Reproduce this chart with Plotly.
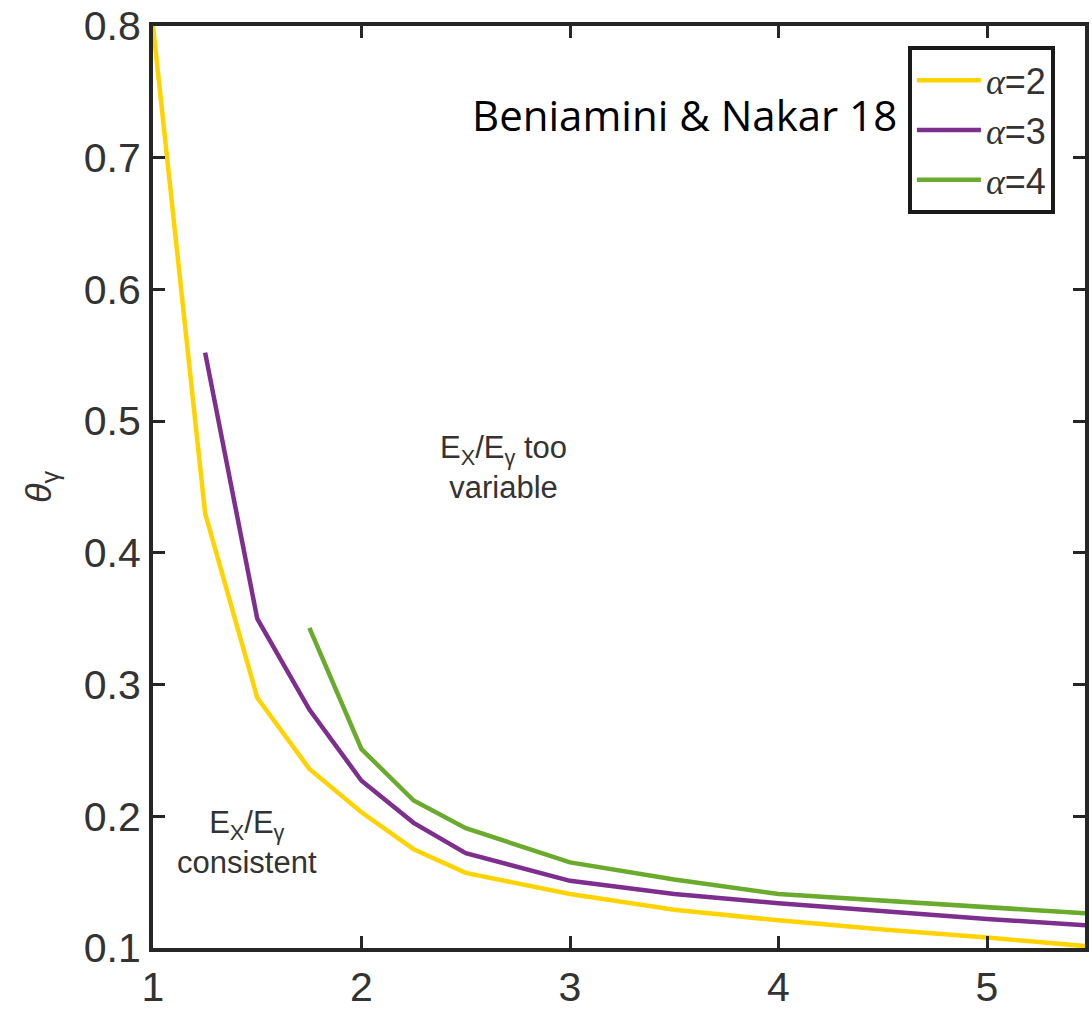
import plotly.graph_objects as go

x2 = [1, 1.25, 1.5, 1.75, 2, 2.25, 2.5, 3, 3.5, 4, 4.5, 5, 5.5]
y2 = [0.8, 0.43, 0.29, 0.236, 0.203, 0.175, 0.157, 0.141, 0.129, 0.121, 0.114, 0.108, 0.101]
x3 = [1.25, 1.5, 1.75, 2, 2.25, 2.5, 3, 3.5, 4, 4.5, 5, 5.5]
y3 = [0.552, 0.35, 0.281, 0.227, 0.195, 0.172, 0.151, 0.141, 0.134, 0.128, 0.122, 0.117]
x4 = [1.75, 2, 2.25, 2.5, 3, 3.5, 4, 4.5, 5, 5.5]
y4 = [0.343, 0.251, 0.212, 0.191, 0.165, 0.152, 0.141, 0.136, 0.131, 0.126]
alpha = "<span style='font-family:Liberation Serif'><i>α</i></span>"
names = [alpha + "=2", alpha + "=3", alpha + "=4"]
colors = ["#FFD300", "#7E2F8E", "#6AAB2E"]
xticks = [1, 2, 3, 4, 5]
yticks = [0.1, 0.2, 0.3, 0.4, 0.5, 0.6, 0.7, 0.8]

fig = go.Figure()
for xs, ys, n, c in zip([x2, x3, x4], [y2, y3, y4], names, colors):
    fig.add_trace(go.Scatter(x=xs, y=ys, mode="lines", name=n,
                             line=dict(color=c, width=4.5)))

axcol = "#262626"
fig.update_layout(
    width=1092, height=1019,
    margin=dict(l=153, r=3, t=23, b=71),
    plot_bgcolor="white", paper_bgcolor="white",
    font=dict(family="Liberation Sans, Arial, sans-serif", color=axcol),
    showlegend=True,
    legend=dict(x=0.81, y=0.978, xanchor="left", yanchor="top",
                bordercolor="#1a1a1a", borderwidth=4, bgcolor="white",
                font=dict(size=36, color="#333333", family="Liberation Sans, Arial"),
                tracegroupgap=0, itemwidth=64),
)
fig.update_xaxes(range=[1, 5.47], tickvals=xticks, ticktext=[str(v) for v in xticks],
                 showline=True, linecolor=axcol, linewidth=4, mirror="ticks",
                 ticks="inside", ticklen=12, tickwidth=3, tickcolor=axcol,
                 showgrid=False, zeroline=False, tickfont=dict(size=41, color="#333333"))
fig.update_yaxes(range=[0.1, 0.8], tickvals=yticks, ticktext=[f"{v:.1f}" for v in yticks],
                 showline=True, linecolor=axcol, linewidth=4, mirror="ticks",
                 ticks="inside", ticklen=12, tickwidth=3, tickcolor=axcol,
                 showgrid=False, zeroline=False, tickfont=dict(size=41, color="#333333"),
                 title=dict(text="<i>θ</i><sub>γ</sub>", font=dict(size=36, color="#333333"), standoff=22))

fig.add_annotation(x=0.57, y=0.904, xref="paper", yref="paper", xanchor="center", yanchor="middle",
                   text="Beniamini &amp; Nakar 18", showarrow=False,
                   font=dict(family="Open Sans, Noto Sans, sans-serif", size=42, color="black"))
fig.add_annotation(x=2.68, y=0.465, xref="x", yref="y", xanchor="center", yanchor="middle",
                   text="E<sub>X</sub>/E<sub>γ</sub> too<br>variable", showarrow=False,
                   font=dict(size=31, color="#333333"), align="center")
fig.add_annotation(x=1.45, y=0.18, xref="x", yref="y", xanchor="center", yanchor="middle",
                   text="E<sub>X</sub>/E<sub>γ</sub><br>consistent", showarrow=False,
                   font=dict(size=31, color="#333333"), align="center")

fig.write_html("out.html")
